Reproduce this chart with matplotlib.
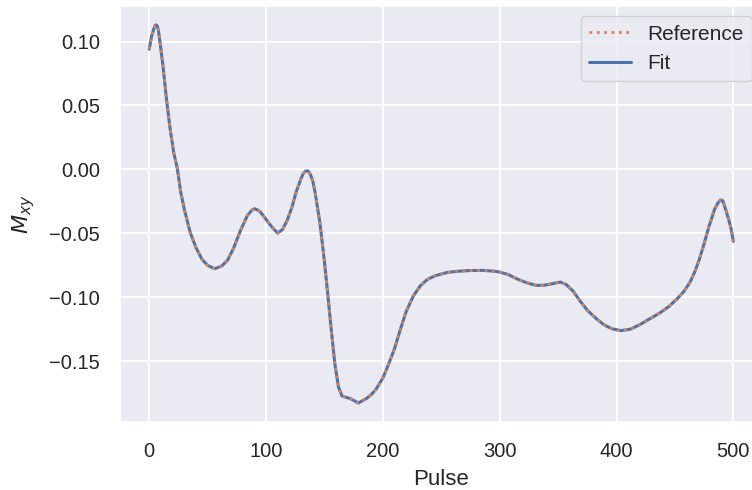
import numpy as np
import seaborn as sns
from matplotlib import pyplot as plt

OUTPUT_FILE = "out.png"

# values (pulse index, transverse magnetisation)
pulse = [0, 2, 4, 5, 6, 7, 8, 10, 12, 15, 18, 21, 24, 27, 30, 35, 40, 45, 50, 56, 62,
         67, 72, 78, 84, 88, 90, 92, 95, 100, 105, 110, 114, 118, 122, 126, 130, 132,
         134, 136, 138, 140, 142, 146, 150, 153, 156, 159, 162, 165, 168, 172, 176,
         179, 182, 186, 190, 194, 200, 205, 210, 215, 220, 226, 232, 238, 245, 255,
         265, 275, 286, 295, 300, 307, 315, 323, 331, 338, 345, 352, 357, 363, 369,
         375, 382, 389, 396, 404, 412, 420, 428, 437, 445, 452, 458, 463, 467, 471,
         475, 479, 484, 487, 489, 491, 493, 496, 498, 500]
m_xy = [0.094, 0.104, 0.110, 0.1125, 0.113, 0.112, 0.108, 0.094, 0.079, 0.053, 0.031,
        0.013, 0.001, -0.018, -0.031, -0.049, -0.061, -0.070, -0.075, -0.0776,
        -0.0755, -0.071, -0.062, -0.048, -0.036, -0.0317, -0.0307, -0.0313, -0.033,
        -0.039, -0.045, -0.0497, -0.047, -0.040, -0.030, -0.017, -0.007, -0.003,
        -0.0012, -0.0012, -0.004, -0.009, -0.018, -0.041, -0.072, -0.099, -0.127,
        -0.1526, -0.170, -0.177, -0.178, -0.179, -0.181, -0.1826, -0.181, -0.179,
        -0.176, -0.172, -0.163, -0.152, -0.140, -0.125, -0.111, -0.099, -0.091,
        -0.086, -0.083, -0.0805, -0.0795, -0.079, -0.0789, -0.0795, -0.0802, -0.082,
        -0.0856, -0.0885, -0.0906, -0.0905, -0.0893, -0.088, -0.090, -0.0953, -0.103,
        -0.110, -0.116, -0.1213, -0.1245, -0.126, -0.1248, -0.1213, -0.117, -0.1122,
        -0.107, -0.101, -0.095, -0.088, -0.080, -0.070, -0.058, -0.045, -0.031,
        -0.026, -0.0238, -0.0245, -0.030, -0.039, -0.046, -0.0562]
reference = m_xy
fit = m_xy

sns.set_theme(style="darkgrid")
plt.rcParams["font.family"] = ["Liberation Sans", "DejaVu Sans"]

fig = plt.figure(figsize=(7.52, 4.90), dpi=100)
ax = fig.add_axes([0.1596, 0.1388, 0.8544, 0.849])

pal = sns.color_palette("deep")
ax.plot(pulse, reference, ":", color=pal[1], lw=2.0, label="Reference", zorder=3)
ax.plot(pulse, fit, "-", color=pal[0], lw=2.2, label="Fit", zorder=2)

ax.set_xlabel("Pulse", fontsize=16, labelpad=6)
ax.set_ylabel("$M_{xy}$", fontsize=16, labelpad=9)
ax.tick_params(labelsize=14.5, length=0, pad=14.5)
ax.grid(lw=1.4)
ax.legend(loc="upper right", fontsize=15)

fig.savefig(OUTPUT_FILE, dpi=100)
